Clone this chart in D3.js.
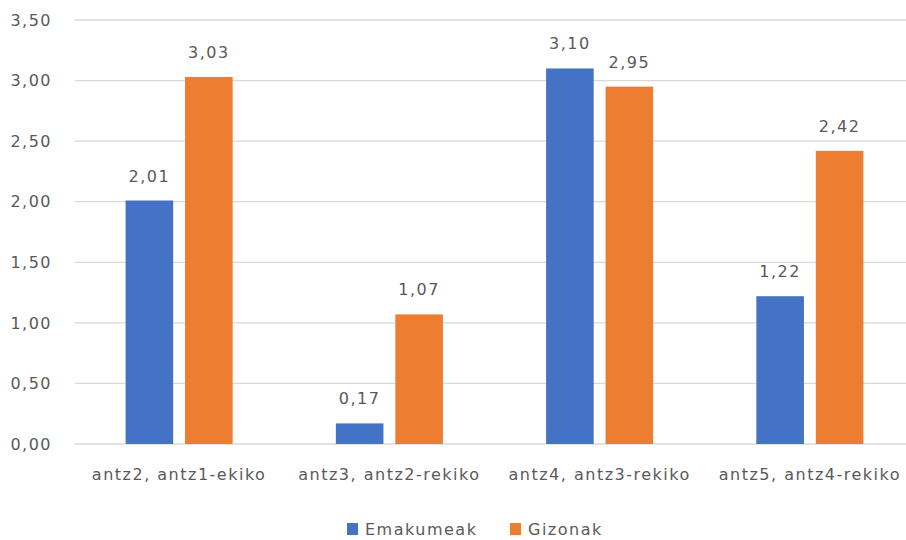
<!DOCTYPE html>
<html><head><meta charset="utf-8">
<script src="https://cdn.jsdelivr.net/npm/d3@7/dist/d3.min.js"></script>
<style>body{margin:0;background:#fff}svg{display:block}text{font-family:"DejaVu Sans",sans-serif;fill:#595959}</style>
</head><body>
<svg id="c" width="906" height="540"></svg>
<script>
const categories = ["antz2, antz1-ekiko","antz3, antz2-rekiko","antz4, antz3-rekiko","antz5, antz4-rekiko"];
const seriesNames = ["Emakumeak","Gizonak"];
const emakumeak = [2.01, 0.17, 3.10, 1.22];
const gizonak = [3.03, 1.07, 2.95, 2.42];
const yTicks = [0,0.5,1,1.5,2,2.5,3,3.5];
const colors = ["#4472C4","#ED7D31"];

const svg = d3.select("#c");
const loc = d3.formatLocale({decimal:",",thousands:".",grouping:[3],currency:["","€"]});
const fmt = loc.format(".2f");
const x0 = d3.scaleBand().domain(categories).range([74,915]).padding(0);
const x1 = d3.scaleBand().domain(seriesNames).range([51.6, x0.bandwidth()-51.6]).paddingInner(0.2).paddingOuter(0);
const y = d3.scaleLinear().domain([0,3.5]).range([444,20]);
const ls = "1.5px";

// gridlines
svg.append("g").selectAll("line").data(yTicks).join("line")
  .attr("x1",75).attr("x2",906).attr("y1",d=>y(d)).attr("y2",d=>y(d))
  .attr("stroke","#d9d9d9").attr("stroke-width",1.3);
// y labels
svg.append("g").selectAll("text").data(yTicks).join("text")
  .attr("x",52).attr("y",d=>y(d)).attr("dy","0.36em").attr("text-anchor","end")
  .style("font-size","16px").style("letter-spacing",ls).text(d=>fmt(d));

const data = categories.map((c,i)=>({c, vals:[emakumeak[i],gizonak[i]]}));
const g = svg.append("g").selectAll("g").data(data).join("g")
  .attr("transform",d=>`translate(${x0(d.c)},0)`);
g.selectAll("rect").data(d=>d.vals.map((v,j)=>({s:seriesNames[j],v,j}))).join("rect")
  .attr("x",d=>x1(d.s)).attr("width",x1.bandwidth())
  .attr("y",d=>y(d.v)).attr("height",d=>y(0)-y(d.v)).attr("fill",d=>colors[d.j]);
g.selectAll("text.v").data(d=>d.vals.map((v,j)=>({s:seriesNames[j],v,j}))).join("text")
  .attr("class","v").attr("x",d=>x1(d.s)+x1.bandwidth()/2).attr("y",d=>y(d.v)-19)
  .attr("text-anchor","middle").style("font-size","16px").style("letter-spacing",ls).text(d=>fmt(d.v));
// category labels
svg.append("g").selectAll("text").data(categories).join("text")
  .attr("x",d=>x0(d)+x0.bandwidth()/2).attr("y",480).attr("text-anchor","middle")
  .style("font-size","16px").style("letter-spacing",ls).text(d=>d);
// legend
const legX = [347, 510];
const lg = svg.append("g").selectAll("g").data(seriesNames).join("g")
  .attr("transform",(d,i)=>`translate(${legX[i]},0)`);
lg.append("rect").attr("x",0).attr("y",523).attr("width",11).attr("height",12).attr("fill",(d,i)=>colors[i]);
lg.append("text").attr("x",18).attr("y",535).style("font-size","16px").style("letter-spacing",ls).text(d=>d);
</script>
</body></html>
